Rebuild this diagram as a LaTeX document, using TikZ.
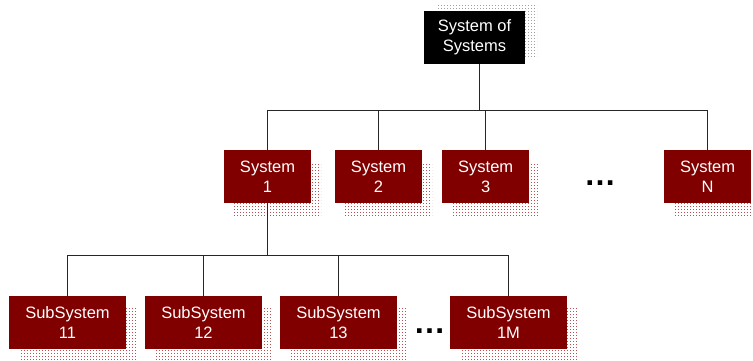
\documentclass[tikz,border=0pt]{standalone}
\usepackage{fontspec}
\setmainfont{Liberation Sans}
\usetikzlibrary{patterns,shadows}

% fine dot matrix used for the box shadows
\pgfdeclarepatternformonly{shdots}{\pgfqpoint{-1pt}{-1pt}}{\pgfqpoint{1pt}{1pt}}{\pgfqpoint{3pt}{3pt}}{%
  \pgfpathrectangle{\pgfpointorigin}{\pgfqpoint{1pt}{0.8pt}}\pgfusepath{fill}}

\definecolor{boxred}{HTML}{800000}
\definecolor{shadered}{HTML}{B85050}
\definecolor{shadegray}{HTML}{A0A0A0}

\tikzset{
  lbl/.style={font=\fontsize{16.5}{20}\selectfont, text=white, align=center, inner sep=0pt,
    execute at begin node={\rule{0pt}{16pt}}},
  redbox/.style={lbl, fill=boxred, minimum height=53pt,
    general shadow={shadow xshift=10pt, shadow yshift=-12pt, pattern=shdots, pattern color=shadered}},
  sysbox/.style={redbox, minimum width=87pt},
  subbox/.style={redbox, minimum width=117pt},
  topbox/.style={lbl, fill=black, minimum width=101pt, minimum height=53pt,
    general shadow={shadow xshift=12pt, shadow yshift=6pt, pattern=shdots, pattern color=shadegray}},
  wire/.style={draw=black!85, line width=0.9pt},
  more/.style={font=\bfseries\fontsize{32}{32}\selectfont, inner sep=0pt},
}

\begin{document}
\begin{tikzpicture}[x=1pt,y=-1pt]
  \useasboundingbox (0,0) rectangle (753,360);

  % root
  \node[topbox] (top) at (474.5,37.5) {System of\\Systems};

  % systems
  \node[sysbox] (s1) at (267.5,176.5) {System\\1};
  \node[sysbox] (s2) at (378.5,176.5) {System\\2};
  \node[sysbox] (s3) at (485.7,176.5) {System\\3};
  \node[sysbox] (sN) at (707.5,176.5) {System\\N};
  \node[more] (dotsA) at (600,183) {…};

  % subsystems of system 1
  \node[subbox] (ss11) at (67.5,322.5) {SubSystem\\11};
  \node[subbox] (ss12) at (203.5,322.5) {SubSystem\\12};
  \node[subbox] (ss13) at (338.5,322.5) {SubSystem\\13};
  \node[subbox] (ss1M) at (508.5,322.5) {SubSystem\\1M};
  \node[more] (dotsB) at (429.5,331) {…};

  % bus heights
  \coordinate (busA) at (0,110.5);
  \coordinate (busB) at (0,255.3);
  \coordinate (rootdrop) at (479,64);

  % root to systems
  \draw[wire] (rootdrop) -- (rootdrop |- busA);
  \draw[wire] (s1.north) -- (s1.north |- busA) -- (sN.north |- busA) -- (sN.north);
  \draw[wire] (s2.north) -- (s2.north |- busA);
  \draw[wire] (s3.north) -- (s3.north |- busA);

  % system 1 to subsystems
  \draw[wire] (s1.south) -- (s1.south |- busB);
  \draw[wire] (ss11.north) -- (ss11.north |- busB) -- (ss1M.north |- busB) -- (ss1M.north);
  \draw[wire] (ss12.north) -- (ss12.north |- busB);
  \draw[wire] (ss13.north) -- (ss13.north |- busB);
\end{tikzpicture}
\end{document}
